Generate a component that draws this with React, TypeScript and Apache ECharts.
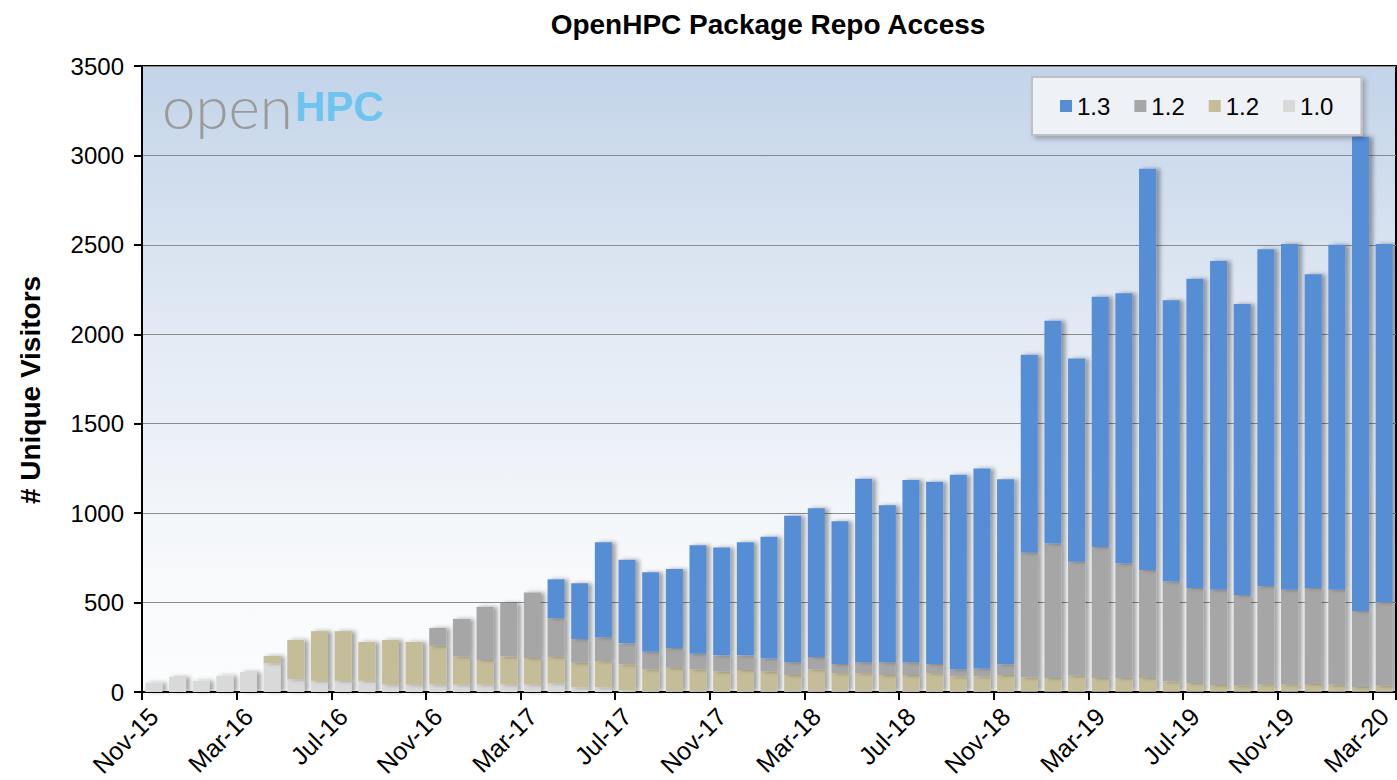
import React, { useEffect, useRef } from 'react';
import * as echarts from 'echarts';

const months = [
  'Nov-15', 'Dec-15',
  'Jan-16', 'Feb-16', 'Mar-16', 'Apr-16', 'May-16', 'Jun-16', 'Jul-16', 'Aug-16', 'Sep-16', 'Oct-16', 'Nov-16', 'Dec-16',
  'Jan-17', 'Feb-17', 'Mar-17', 'Apr-17', 'May-17', 'Jun-17', 'Jul-17', 'Aug-17', 'Sep-17', 'Oct-17', 'Nov-17', 'Dec-17',
  'Jan-18', 'Feb-18', 'Mar-18', 'Apr-18', 'May-18', 'Jun-18', 'Jul-18', 'Aug-18', 'Sep-18', 'Oct-18', 'Nov-18', 'Dec-18',
  'Jan-19', 'Feb-19', 'Mar-19', 'Apr-19', 'May-19', 'Jun-19', 'Jul-19', 'Aug-19', 'Sep-19', 'Oct-19', 'Nov-19', 'Dec-19',
  'Jan-20', 'Feb-20', 'Mar-20',
];

// version 1.0 (light gray, bottom of stack)
const v10 = [
  52, 84, 63, 91, 112, 161, 71, 62, 62, 62, 41, 41, 41, 41, 41, 41, 41, 48, 26, 26, 8,
  5, 5, 5, 5, 5, 5, 5, 5, 5, 5, 5, 5, 5, 5, 5, 5,
  3, 3, 3, 3, 3, 3, 3, 3, 3, 3, 3, 3, 3, 3, 3, 3,
];

// version 1.2 (tan)
const v12tan = [
  0, 0, 0, 0, 0, 41, 220, 278, 278, 218, 250, 239, 217, 157, 138, 157, 149, 148, 137, 147, 147,
  121, 130, 121, 109, 118, 109, 90, 121, 101, 101, 90, 90, 101, 83, 83, 90,
  78, 75, 88, 75, 75, 75, 57, 47, 36, 34, 41, 41, 42, 37, 25, 32,
];

// version 1.2 (gray)
const v12gray = [
  0, 0, 0, 0, 0, 0, 0, 0, 0, 0, 0, 0, 100, 211, 297, 300, 366, 217, 133, 132, 117,
  99, 111, 88, 91, 82, 73, 72, 70, 51, 61, 72, 72, 51, 38, 44, 60,
  698, 752, 637, 733, 640, 604, 558, 532, 533, 506, 548, 528, 537, 532, 425, 467,
];

// version 1.3 (blue, top of stack)
const v13 = [
  0, 0, 0, 0, 0, 0, 0, 0, 0, 0, 0, 0, 0, 0, 0, 0, 0, 217, 312, 532, 468,
  445, 442, 606, 603, 632, 681, 818, 831, 798, 1025, 877, 1019, 1018, 1089, 1118, 1035,
  1106, 1245, 1137, 1399, 1512, 2243, 1572, 1728, 1838, 1627, 1883, 1933, 1753, 1928, 2652, 2003,
];

const seriesKeys = ['v13', 'v12g', 'v12t', 'v10'];
const legendLabels = ['1.3', '1.2', '1.2', '1.0'];

const FONT = '"Liberation Sans", Arial, Helvetica, sans-serif';

function buildOption() {
  const clean = (arr: number[]) => arr.map((v) => (v === 0 ? null : v));
  const barBase = {
    type: 'bar',
    stack: 'total',
    barCategoryGap: '28%',
  };
  const shadow = {
    shadowColor: 'rgba(0,0,0,0.35)',
    shadowBlur: 4,
    shadowOffsetX: 4,
    shadowOffsetY: 0,
  };
  return {
    animation: false,
    textStyle: { fontFamily: FONT },
    title: {
      text: 'OpenHPC Package Repo Access',
      left: 763,
      top: 5,
      textAlign: 'center',
      textStyle: { fontFamily: FONT, fontSize: 28, fontWeight: 'bold', color: '#000' },
    },
    legend: {
      left: 1032,
      top: 77,
      orient: 'horizontal',
      data: seriesKeys,
      formatter: (name: string) => legendLabels[seriesKeys.indexOf(name)],
      icon: 'rect',
      itemWidth: 12,
      itemHeight: 12,
      itemGap: 24,
      padding: [17, 28],
      backgroundColor: '#eef1f6',
      borderColor: '#c0c0c0',
      borderWidth: 2,
      shadowColor: 'rgba(0,0,0,0.25)',
      shadowBlur: 5,
      shadowOffsetX: 3,
      shadowOffsetY: 3,
      textStyle: { fontFamily: FONT, fontSize: 24, color: '#000' },
    },
    grid: {
      left: 142,
      right: 1,
      top: 66,
      bottom: 88,
      show: true,
      borderColor: '#000',
      borderWidth: 2,
      backgroundColor: {
        type: 'linear',
        x: 0,
        y: 0,
        x2: 0,
        y2: 1,
        colorStops: [
          { offset: 0, color: '#c3d4e9' },
          { offset: 0.45, color: '#e4ebf5' },
          { offset: 0.8, color: '#f7f9fb' },
          { offset: 1, color: '#fbfcfd' },
        ],
      },
    },
    xAxis: {
      type: 'category',
      data: months,
      boundaryGap: true,
      axisLine: { show: true, lineStyle: { color: '#000', width: 2 } },
      axisTick: { show: true, interval: 3, length: 8, lineStyle: { color: '#000', width: 2 } },
      axisLabel: {
        interval: 3,
        rotate: 45,
        fontSize: 25,
        color: '#000',
        margin: 20,
        fontFamily: FONT,
      },
    },
    yAxis: {
      type: 'value',
      min: 0,
      max: 3500,
      interval: 500,
      axisLine: { show: true, lineStyle: { color: '#000', width: 2 } },
      axisTick: { show: true, length: 8, lineStyle: { color: '#000', width: 2 } },
      axisLabel: {
        fontSize: 24,
        color: '#000',
        margin: 18,
        fontFamily: FONT,
        formatter: (v: number) => String(v),
      },
      splitLine: { lineStyle: { color: '#8c8c8c', width: 1 } },
    },
    graphic: [
      {
        type: 'text',
        x: 30,
        y: 390,
        rotation: Math.PI / 2,
        z: 10,
        style: {
          text: '# Unique Visitors',
          fontFamily: FONT,
          fontWeight: 'bold',
          fontSize: 28,
          fill: '#000',
          align: 'center',
          verticalAlign: 'middle',
        },
      },
      {
        type: 'text',
        left: 162,
        top: 76,
        z: 10,
        style: {
          text: 'open',
          fontFamily: 'Lato, "Liberation Sans", sans-serif',
          fontWeight: 300,
          fontSize: 60,
          fill: '#9a9a9a',
        },
      },
      {
        type: 'text',
        left: 295,
        top: 85,
        z: 10,
        style: {
          text: 'HPC',
          fontFamily: FONT,
          fontWeight: 'bold',
          fontSize: 42,
          fill: '#6cc4ef',
        },
      },
    ],
    series: [
      { ...barBase, name: 'v10', data: clean(v10), itemStyle: { color: '#d9d9d9', ...shadow } },
      { ...barBase, name: 'v12t', data: clean(v12tan), itemStyle: { color: '#c4bd97', ...shadow } },
      { ...barBase, name: 'v12g', data: clean(v12gray), itemStyle: { color: '#a6a6a6', ...shadow } },
      { ...barBase, name: 'v13', data: clean(v13), itemStyle: { color: '#558ed5', ...shadow } },
    ],
  };
}

export default function App() {
  const ref = useRef<HTMLDivElement>(null);
  useEffect(() => {
    if (!ref.current) return;
    const chart = echarts.init(ref.current, null, { renderer: 'svg' });
    chart.setOption(buildOption() as any);
    return () => chart.dispose();
  }, []);
  return (
    <div
      ref={ref}
      style={{ position: 'fixed', left: 0, top: 0, width: 1397, height: 780, background: '#fff' }}
    />
  );
}
